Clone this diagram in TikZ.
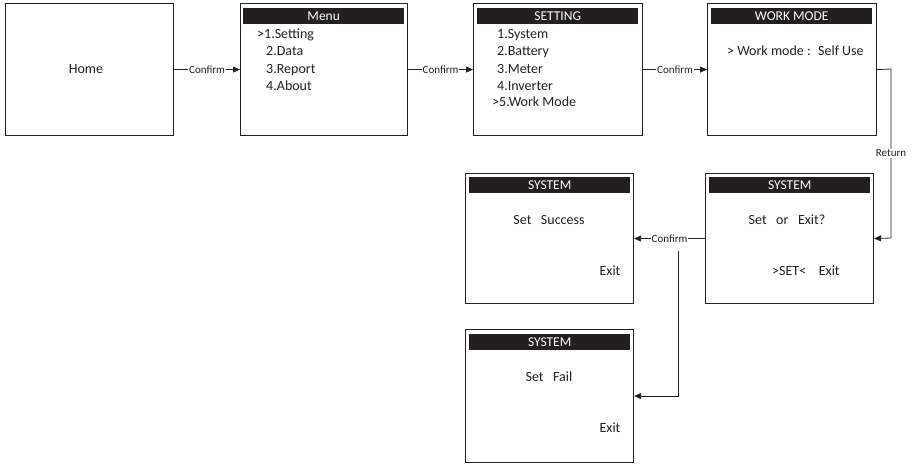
\documentclass[tikz,border=0pt]{standalone}
\usepackage{fontspec}
\setmainfont{Carlito}
\usetikzlibrary{arrows.meta,calc}
\definecolor{ink}{HTML}{231F20}
\tikzset{
  screen/.style={draw=ink, line width=1.1pt, minimum width=168pt, minimum height=132pt, inner sep=0pt, anchor=north west},
  hdr/.style={fill=ink, text=white, minimum width=161pt, minimum height=16pt, inner sep=0pt, anchor=north west, font=\fontsize{13.5}{14}\selectfont},
  txt/.style={text=ink, inner sep=0pt, text height=9.5pt, text depth=3pt, font=\fontsize{14}{16}\selectfont},
  lbl/.style={fill=white, text=ink, inner sep=1pt, font=\fontsize{11}{12}\selectfont},
  arr/.style={draw=ink, line width=0.8pt, -{Triangle[length=7pt,width=6pt]}},
  ln/.style={draw=ink, line width=0.8pt}
}
\begin{document}
\begin{tikzpicture}[x=1pt,y=-1pt]
\useasboundingbox (0,0) rectangle (917,464);
% boxes
\node[screen] (home) at (5,3) {};
\node[screen, minimum width=167pt] (menu) at (240,3) {};
\node[screen, minimum width=169pt] (set) at (473,3) {};
\node[screen, minimum width=169pt] (wm) at (707,3) {};
\node[screen, minimum height=130pt] (sys) at (705,173) {};
\node[screen, minimum height=130pt] (suc) at (465,173) {};
\node[screen, minimum height=133pt] (fail) at (465,329) {};
% headers
\node[hdr] (hmenu) at (243,8) {Menu};
\node[hdr] (hset) at (477,8) {SETTING};
\node[hdr] (hwm) at (711,8) {WORK MODE};
\node[hdr] (hsys) at (709,177) {SYSTEM};
\node[hdr] (hsuc) at (469,177) {SYSTEM};
\node[hdr] (hfail) at (469,334) {SYSTEM};
% texts
\node[txt] (thome) at (86,70) {Home};
\node[txt, anchor=west] (m1) at (257,35) {>1.Setting};
\node[txt, anchor=west] (m2) at (266,52) {2.Data};
\node[txt, anchor=west] (m3) at (266,70) {3.Report};
\node[txt, anchor=west] (m4) at (266,87) {4.About};
\node[txt, anchor=west] (s1) at (497,35) {1.System};
\node[txt, anchor=west] (s2) at (497,52) {2.Battery};
\node[txt, anchor=west] (s3) at (497,70) {3.Meter};
\node[txt, anchor=west] (s4) at (497,87) {4.Inverter};
\node[txt, anchor=west] (s5) at (492,103) {>5.Work Mode};
\node[txt, anchor=west] (w1) at (727,52) {> Work mode~:~ Self Use};
\node[txt] (y1) at (787,221) {Set~~ or~~ Exit?};
\node[txt, anchor=west] (y2) at (772,272) {>SET<~~~ Exit};
\node[txt] (c1) at (549,221) {Set~~ Success};
\node[txt] (c2) at (610,272) {Exit};
\node[txt] (f1) at (549,378) {Set~~ Fail};
\node[txt] (f2) at (610,429) {Exit};
% connectors
\draw[arr] (home.east) -- node[lbl] {Confirm} (menu.west);
\draw[arr] (menu.east) -- node[lbl] {Confirm} (set.west);
\draw[arr] (set.east) -- node[lbl] {Confirm} (wm.west);
\coordinate (r1) at (891,69);
\coordinate (r2) at (891,238);
\draw[ln] (wm.east) -- (r1) -- node[lbl] {Return} (r2);
\draw[arr] (r2) -- (sys.east);
\draw[arr] (sys.west) -- node[lbl] (conf) {Confirm} (suc.east);
\coordinate (b1) at (678,251);
\draw[arr] (b1) |- (fail.east);
\end{tikzpicture}
\end{document}
